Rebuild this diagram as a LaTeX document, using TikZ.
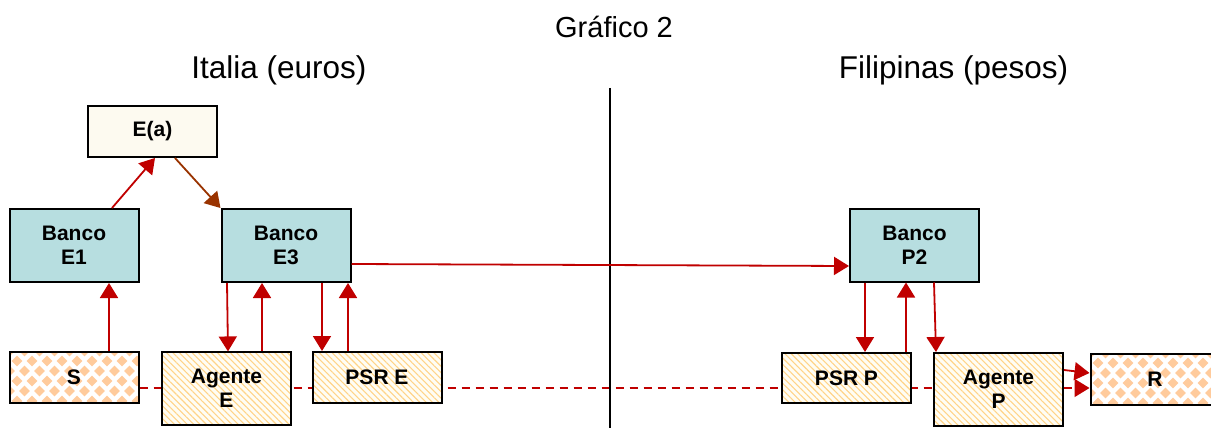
\documentclass[tikz,border=0pt]{standalone}
\usepackage{fontspec}
\setmainfont{Liberation Sans}
\usepackage{xcolor}
\usepackage{tikz}
\usetikzlibrary{arrows.meta,patterns.meta,backgrounds}
\definecolor{bancocolor}{HTML}{B7DEE0}
\definecolor{eacolor}{HTML}{FDFAF0}
\definecolor{flechacolor}{HTML}{C00000}
\definecolor{cafecolor}{HTML}{993300}
\definecolor{rombocolor}{HTML}{FFCB9C}
\definecolor{rayacolor}{HTML}{FFD488}
\definecolor{rayafondo}{HTML}{FFFDF4}

\tikzset{
  caja/.style={draw, line width=2pt, rectangle, minimum width=129pt, align=center, inner sep=0pt, font=\fontsize{21pt}{24pt}\selectfont\bfseries},
  banco/.style={caja, fill=bancocolor, minimum height=73pt},
  fuente/.style={caja, fill=eacolor, minimum height=51pt},
  rayada/.style={caja, preaction={fill=rayafondo}, pattern={Lines[angle=-45,distance=4.5pt,line width=1.1pt]}, pattern color=rayacolor},
  rombo/.style={caja, fill=white, minimum height=51pt, path picture={%
    \foreach \i in {0,...,9}{\foreach \j in {0,...,2}{%
      \fill[rombocolor] ([xshift=15pt*\i+7.5pt, yshift=20pt*\j+2pt]path picture bounding box.south west) +(0,-5.3) -- +(5.3,0) -- +(0,5.3) -- +(-5.3,0) -- cycle;%
      \fill[rombocolor] ([xshift=15pt*\i, yshift=20pt*\j+12pt]path picture bounding box.south west) +(0,-5.3) -- +(5.3,0) -- +(0,5.3) -- +(-5.3,0) -- cycle;%
    }}}},
  flecha/.style={draw=flechacolor, line width=1.8pt, -{Triangle[length=15pt,width=18pt]}},
  discont/.style={draw=flechacolor, line width=1.5pt, dash pattern=on 8pt off 6pt},
}

\begin{document}
\begin{tikzpicture}[x=1pt, y=-1pt]%
\useasboundingbox (0,0) rectangle (1211,428);%
% titulos
\node[anchor=base, font=\fontsize{29pt}{34pt}\selectfont] (titulo) at (614, 38) {Gráfico 2};%
\node[anchor=base, font=\fontsize{31.5pt}{36pt}\selectfont] (italia) at (279, 78) {Italia (euros)};%
\node[anchor=base, font=\fontsize{31.5pt}{36pt}\selectfont] (filipinas) at (953.5, 78) {Filipinas (pesos)};%
\draw[line width=1.5pt] (610, 88) -- (610, 428);%
% cajas
\node[fuente] (Ea) at (152.5, 131.5) {E(a)};%
\node[banco] (E1) at (74, 245.5) {Banco\\E1};%
\node[banco] (E3) at (286, 245.5) {Banco\\E3};%
\node[banco] (P2) at (914.5, 245) {Banco\\P2};%
\node[rombo] (S) at (74, 377.5) {S};%
\node[rayada, minimum height=73pt] (AgE) at (226.5, 388.5) {Agente\\E};%
\node[rayada, minimum height=51pt] (PSRE) at (377, 377.5) {PSR E};%
\node[rayada, minimum height=50pt] (PSRP) at (846.5, 378) {PSR P};%
\node[rayada, minimum height=73pt] (AgP) at (998.5, 389.5) {Agente\\P};%
\node[rombo] (R) at (1155, 379.5) {R};%
% linea discontinua
\begin{pgfonlayer}{background}%
\draw[discont] ([yshift=-10.5pt]S.east) -- ([yshift=1.5pt]AgP.west);%
\end{pgfonlayer}%
\draw[discont, -{Triangle[length=15pt,width=18pt]}] ([yshift=1.5pt]AgP.east) -- ([yshift=-8.5pt]R.west);%
% flechas
\draw[flecha] ([xshift=38pt]E1.north) -- ([xshift=2.5pt]Ea.south);%
\draw[flecha, draw=cafecolor] ([xshift=22.5pt]Ea.south) -- (E3.north west);%
\draw[flecha] ([xshift=35pt]S.north) -- ([xshift=35pt]E1.south);%
\draw[flecha] ([xshift=-59pt]E3.south) -- ([xshift=1.5pt]AgE.north);%
\draw[flecha] ([xshift=35.5pt]AgE.north) -- ([xshift=-24pt]E3.south);%
\draw[flecha] ([xshift=36pt]E3.south) -- ([xshift=-55pt]PSRE.north);%
\draw[flecha] ([xshift=-29pt]PSRE.north) -- ([xshift=62pt]E3.south);%
\draw[flecha] ([yshift=-18.5pt]E3.east) -- ([yshift=-21pt]P2.west);%
\draw[flecha] ([xshift=-49.5pt]P2.south) -- ([xshift=18.5pt]PSRP.north);%
\draw[flecha] ([xshift=59.5pt]PSRP.north) -- ([xshift=-8.5pt]P2.south);%
\draw[flecha] ([xshift=19.5pt]P2.south) -- ([xshift=-62.5pt]AgP.north);%
\draw[flecha] ([yshift=19.5pt]AgP.east) -- ([yshift=6.5pt]R.west);%
\end{tikzpicture}%
\end{document}
